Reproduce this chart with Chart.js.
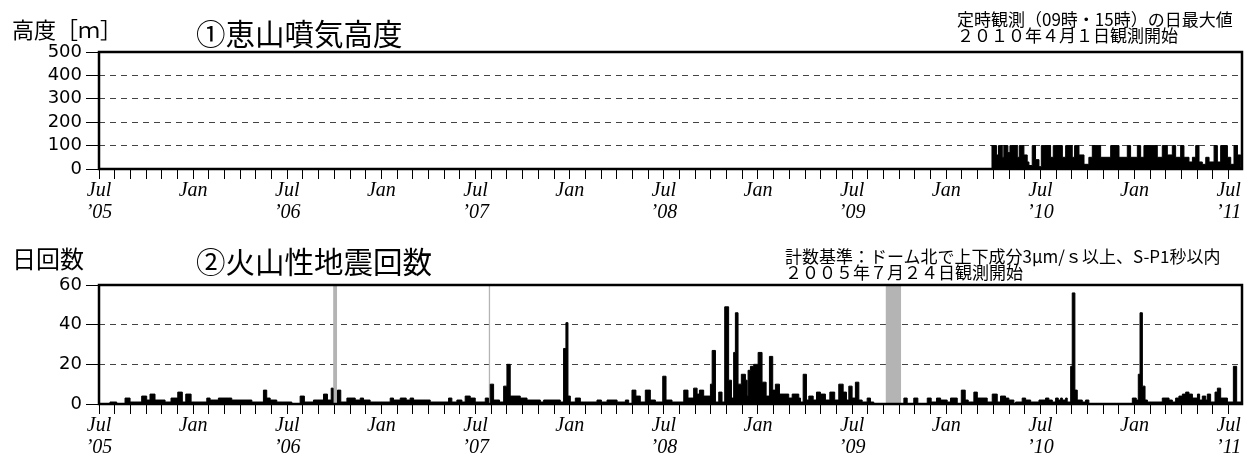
<!DOCTYPE html>
<html>
<head>
<meta charset="utf-8">
<script src="https://cdn.jsdelivr.net/npm/chart.js@4/dist/chart.umd.min.js"></script>
<style>
body { margin: 0; background: #fff; width: 1249px; height: 456px; position: relative; overflow: hidden; font-family: "Noto Sans CJK JP", sans-serif; }
canvas { position: absolute; left: 0; }
.t { position: absolute; white-space: nowrap; color: #000; line-height: 1; }
.note { font-size: 17px; line-height: 16px; }
</style>
</head>
<body>
<canvas id="plumeChart" width="1249" height="232" style="top:0"></canvas>
<canvas id="quakeChart" width="1249" height="241" style="top:215px"></canvas>

<div class="t" style="left:12px;top:17px;font-size:22px">高度［ｍ］</div>
<div class="t" style="left:196px;top:18px;font-size:29.5px">①恵山噴気高度</div>
<div class="t note" style="left:957px;top:11px">定時観測（09時・15時）の日最大値<br>２０１０年４月１日観測開始</div>

<div class="t" style="left:12px;top:246px;font-size:24px">日回数</div>
<div class="t" style="left:196px;top:246px;font-size:29.5px">②火山性地震回数</div>
<div class="t note" style="left:785px;top:248px">計数基準：ドーム北で上下成分3μm/ｓ以上、S-P1秒以内<br>２００５年７月２４日観測開始</div>

<script>
// x values are months since 1 Jul 2005
const xEnd = 72.85;
const yearLabels = ["’05", "’06", "’07", "’08", "’09", "’10", "’11"];
const heightTicks = [0, 100, 200, 300, 400, 500];
const countTicks = [0, 20, 40, 60];

// ① plume height, daily max [m] (step start, value)
const plumeT = [56.87, 57.21, 57.33, 57.57, 57.67, 57.93, 58.06, 58.53, 58.65, 58.95, 59.16, 59.27, 59.48, 59.69, 59.91,
  60.06, 60.65, 60.82, 61.40, 61.61, 62.03, 62.18, 62.46, 62.78, 63.09, 63.31, 63.84, 64.48, 65.01, 65.54, 65.75,
  66.18, 66.39, 66.60, 67.45, 67.77, 68.09, 68.41, 68.62, 68.94, 69.15, 69.47, 69.69, 69.90, 70.11, 70.32, 70.54,
  70.75, 71.07, 71.28, 71.49, 71.92, 72.13, 72.34, 72.56, 72.77, 72.85];
const plumeH = [100, 60, 100, 50, 100, 70, 100, 50, 100, 60, 30, 15, 100, 40, 10,
  100, 50, 100, 50, 100, 50, 100, 60, 20, 50, 100, 50, 100, 50, 100, 50,
  100, 50, 100, 50, 100, 60, 100, 50, 100, 50, 30, 50, 100, 30, 20, 50,
  30, 100, 30, 100, 50, 20, 100, 60, 10, 10];

// ② volcanic earthquakes per day (step start, value)
const quakeT = [0, 0.70, 1.13, 1.66, 1.98, 2.72, 3.04, 3.25, 3.57, 4.21, 4.59, 5.02, 5.31, 5.53, 5.87, 6.87, 7.08, 7.61,
  8.46, 9.74, 10.48, 10.69, 10.91, 11.33, 12.29, 12.82, 13.09, 13.67, 14.31, 14.56, 14.80, 14.92, 15.20, 15.41, 15.80,
  16.33, 16.65, 16.86, 17.28, 18.56, 18.77, 19.20, 19.58, 19.83, 20.05, 21.11, 22.28, 22.49, 22.81, 23.13, 23.34,
  23.66, 23.98, 24.62, 24.83, 24.94, 25.15, 25.53, 25.79, 26.00, 26.21, 26.85, 27.28, 28.13, 28.34, 29.40, 29.61,
  29.76, 29.89, 30.04, 30.36, 30.68, 31.74, 32.02, 32.38, 33.02, 33.55, 33.76, 33.97, 34.22, 34.50, 34.82, 35.14,
  35.46, 35.93, 36.14, 36.52, 37.27, 37.54, 37.90, 38.12, 38.27, 38.54, 38.97, 39.08, 39.29, 39.50, 39.71, 39.88,
  40.13, 40.31, 40.45, 40.56, 40.73, 40.94, 41.20, 41.31, 41.37, 41.52, 41.73, 42.01, 42.26, 42.52, 42.73, 42.94,
  43.11, 43.37, 43.96, 44.18, 44.60, 44.71, 44.88, 45.09, 45.24, 45.52, 45.73, 45.98, 46.30, 46.58, 46.89, 47.15,
  47.43, 47.64, 47.79, 48.00, 48.21, 48.43, 48.64, 48.96, 49.17, 49.38, 51.30, 51.51, 51.93, 52.19, 52.79, 53.04,
  53.38, 53.64, 54.06, 54.27, 54.70, 54.96, 55.21, 55.40, 55.76, 55.98, 56.61, 56.93, 57.25, 57.46, 57.78, 57.99,
  58.31, 58.42, 58.84, 59.06, 59.38, 59.91, 60.33, 60.54, 60.76, 60.97, 61.14, 61.29, 61.40, 61.61, 61.71, 61.93,
  62.03, 62.20, 62.35, 62.67, 62.88, 63.09, 65.86, 66.11, 66.24, 66.35, 66.50, 66.67, 66.82, 67.77, 68.20, 68.41,
  68.62, 68.83, 69.05, 69.26, 69.47, 69.69, 70.01, 70.15, 70.32, 70.54, 70.64, 70.85, 71.13, 71.28, 71.49, 71.92,
  72.30, 72.51, 72.85];
const quakeN = [0, 1, 0, 3, 1, 4, 2, 5, 2, 1, 3, 6, 1, 5, 1, 3, 2, 3,
  2, 1, 7, 3, 2, 1, 0, 4, 1, 2, 5, 2, 8, 0, 7, 1, 3,
  2, 3, 2, 1, 3, 2, 3, 2, 3, 2, 1, 3, 1, 2, 1, 4,
  3, 1, 3, 0, 10, 2, 1, 9, 20, 4, 3, 2, 1, 2, 1, 28,
  41, 4, 1, 3, 1, 2, 1, 2, 1, 2, 0, 7, 4, 1, 7, 2,
  1, 14, 2, 1, 7, 3, 8, 5, 7, 4, 10, 27, 1, 6, 1, 49,
  12, 3, 26, 46, 10, 15, 12, 4, 17, 19, 20, 26, 11, 4, 24, 7,
  10, 5, 3, 5, 3, 1, 15, 2, 4, 2, 6, 5, 2, 6, 2, 10,
  6, 2, 9, 3, 11, 2, 1, 3, 1, 0, 3, 0, 3, 0, 3, 1,
  3, 2, 1, 3, 0, 7, 2, 1, 6, 3, 1, 5, 1, 4, 3, 2,
  0, 1, 3, 2, 1, 2, 3, 2, 1, 3, 2, 3, 2, 3, 1, 19,
  56, 7, 2, 1, 2, 0, 3, 2, 15, 46, 9, 2, 1, 3, 2, 1,
  3, 4, 5, 6, 5, 3, 5, 2, 4, 2, 5, 1, 6, 8, 3, 1,
  19, 1, 1];

// periods without observation (shaded)
const gapStart = [14.92, 24.83, 50.13];
const gapEnd = [15.18, 24.94, 51.13];

function toPoints(xs, ys) {
  return xs.map((x, i) => ({x: x, y: ys[i]}));
}

function gapPoints(top) {
  let pts = [];
  gapStart.forEach((s, i) => {
    pts.push({x: s, y: top}, {x: gapEnd[i], y: top}, {x: gapEnd[i], y: null});
  });
  return pts;
}

// month ticks along the bottom
const monthTicks = [];
for (let m = 0; m <= 72; m++) monthTicks.push(m);

function monthLabel(m) {
  if (m % 12 === 0) return ['Jul', yearLabels[m / 12]];
  if (m % 12 === 6) return 'Jan';
  return '';
}

// thick frame around the plot
const frame = {
  id: 'frame',
  afterDatasetsDraw(chart) {
    const {ctx, chartArea: a} = chart;
    ctx.save();
    ctx.strokeStyle = '#000';
    ctx.lineWidth = 2.5;
    ctx.strokeRect(a.left, a.top, a.right - a.left, a.bottom - a.top);
    ctx.restore();
  }
};

function makeOptions(yMax, yTicks, padTop, xHeight) {
  return {
    responsive: false,
    animation: false,
    events: [],
    layout: { padding: { top: padTop, right: 7, left: 0, bottom: 0 } },
    plugins: { legend: { display: false }, tooltip: { enabled: false } },
    scales: {
      x: {
        type: 'linear',
        min: 0,
        max: xEnd,
        afterBuildTicks: s => { s.ticks = monthTicks.map(v => ({value: v})); },
        afterFit: s => { s.height = xHeight; },
        border: { display: false },
        grid: { drawOnChartArea: false, drawTicks: true, tickLength: 10, tickColor: '#000', tickWidth: 1 },
        ticks: {
          autoSkip: false,
          maxRotation: 0,
          padding: 1,
          color: '#000',
          font: { family: 'Liberation Serif', style: 'italic', size: 20, lineHeight: 1.1 },
          callback: v => monthLabel(v)
        }
      },
      y: {
        min: 0,
        max: yMax,
        afterBuildTicks: s => { s.ticks = yTicks.map(v => ({value: v})); },
        afterFit: s => { s.width = 99; },
        border: { display: false, dash: [6, 5] },
        grid: { color: '#444', lineWidth: 1, tickLength: 13, tickColor: '#000', tickBorderDash: [] },
        ticks: {
          autoSkip: false,
          padding: 4,
          color: '#000',
          font: { family: 'DejaVu Sans', size: 18, lineHeight: 1 }
        }
      }
    }
  };
}

new Chart(document.getElementById('plumeChart'), {
  type: 'line',
  data: {
    datasets: [{
      data: toPoints(plumeT, plumeH),
      stepped: 'before',
      fill: 'origin',
      backgroundColor: '#000',
      borderColor: '#000',
      borderWidth: 1,
      pointRadius: 0
    }]
  },
  options: makeOptions(500, heightTicks, 52, 63),
  plugins: [frame]
});

new Chart(document.getElementById('quakeChart'), {
  type: 'line',
  data: {
    datasets: [{
      data: toPoints(quakeT, quakeN),
      stepped: 'before',
      fill: 'origin',
      backgroundColor: '#000',
      borderColor: '#000',
      borderWidth: 1,
      pointRadius: 0,
      order: 1
    }, {
      data: gapPoints(60),
      fill: 'origin',
      spanGaps: false,
      backgroundColor: '#b4b4b4',
      borderWidth: 0,
      pointRadius: 0,
      order: 2
    }]
  },
  options: makeOptions(60, countTicks, 70, 52),
  plugins: [frame]
});
</script>
</body>
</html>
